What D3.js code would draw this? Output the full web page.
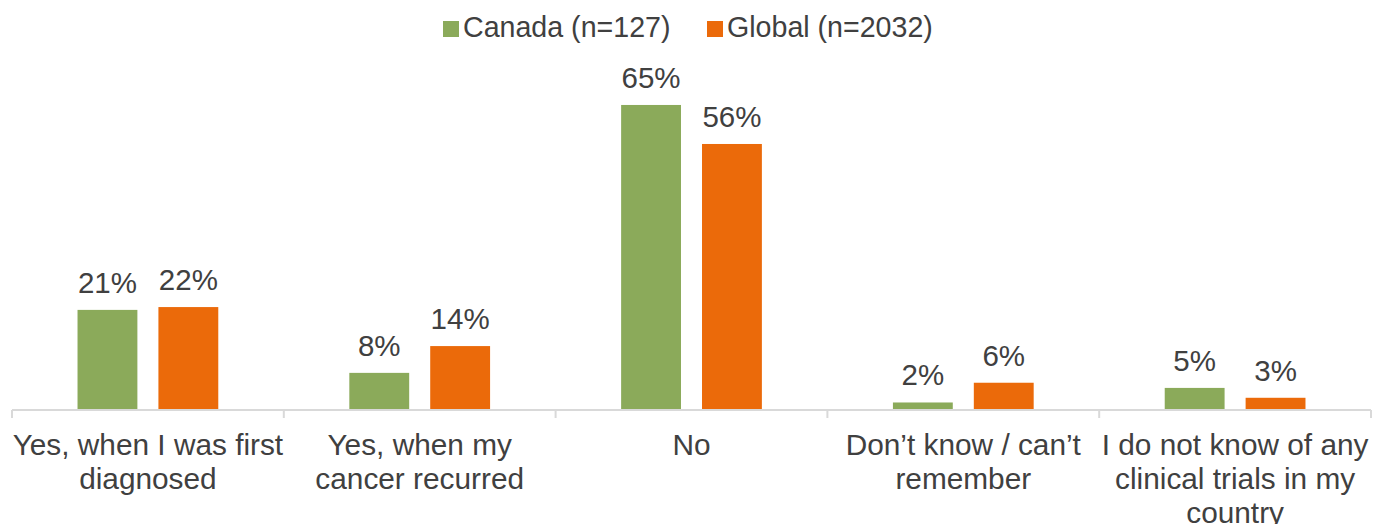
<!DOCTYPE html>
<html><head><meta charset="utf-8">
<script src="https://cdn.jsdelivr.net/npm/d3@7"></script>
<style>html,body{margin:0;padding:0;background:#fff;}svg{display:block;}</style>
</head><body>
<svg id="c" width="1385" height="524"></svg>
<script>
const categories = ["Yes, when I was first diagnosed","Yes, when my cancer recurred","No","Don’t know / can’t remember","I do not know of any clinical trials in my country"];
const categoryLines = [["Yes, when I was first","diagnosed"],["Yes, when my","cancer recurred"],["No"],["Don’t know / can’t","remember"],["I do not know of any","clinical trials in my","country"]];
const series = ["Canada (n=127)","Global (n=2032)"];
const canada = [21.3, 7.9, 64.9, 1.6, 4.7];
const global = [21.9, 13.6, 56.6, 5.8, 2.6];
const canadaLabels = ["21%","8%","65%","2%","5%"];
const globalLabels = ["22%","14%","56%","6%","3%"];
const colors = ["#8BAA5A","#EB6A0A"];

const svg = d3.select("#c");
const font = "Liberation Sans, Arial, Helvetica, sans-serif";
const textColor = "#404040";
const left = 12, right = 1371, base = 410;

const x = d3.scaleBand().domain(categories).range([left, right]).padding(0);
const xi = d3.scaleBand().domain(series).range([0, x.bandwidth()]).paddingInner(0.26).paddingOuter(0.81);
const y = d3.scaleLinear().domain([0, 70]).range([base, base - 4.7*70]);

const values = [canada, global];
const labels = [canadaLabels, globalLabels];

// bars
series.forEach((s, si) => {
  const g = svg.append("g");
  g.selectAll("rect").data(categories).join("rect")
    .attr("x", d => x(d) + xi(s))
    .attr("width", xi.bandwidth())
    .attr("y", (d,i) => y(values[si][i]))
    .attr("height", (d,i) => y(0) - y(values[si][i]))
    .attr("fill", colors[si]);
  g.selectAll("text").data(categories).join("text")
    .attr("x", d => x(d) + xi(s) + xi.bandwidth()/2)
    .attr("y", (d,i) => y(values[si][i]) - 17)
    .attr("text-anchor", "middle")
    .attr("font-family", font).attr("font-size", 29.5).attr("fill", textColor)
    .text((d,i) => labels[si][i]);
});

// axis
const axis = svg.append("g").attr("transform", `translate(0,${base})`)
  .call(d3.axisBottom(x).tickSize(0).tickFormat(""));
axis.select(".domain").attr("stroke", "#d9d9d9").attr("stroke-width", 2).attr("d", `M${left},0H${right}`);
const edges = categories.map(c => x(c)).concat([right]);
axis.selectAll("line.edge").data(edges).join("line").attr("class","edge")
  .attr("x1", d => d).attr("x2", d => d).attr("y1", 0).attr("y2", 8)
  .attr("stroke", "#d9d9d9").attr("stroke-width", 2);

// category labels
categories.forEach((c, i) => {
  const t = svg.append("text")
    .attr("text-anchor", "middle")
    .attr("font-family", font).attr("font-size", 29.8).attr("fill", textColor);
  categoryLines[i].forEach((line, li) => {
    t.append("tspan").attr("x", x(c) + x.bandwidth()/2).attr("y", 455 + li*34).text(line);
  });
});

// legend
const legend = svg.append("g");
const legendItems = [{x: 443}, {x: 707}];
series.forEach((s, si) => {
  legend.append("rect").attr("x", legendItems[si].x).attr("y", 21).attr("width", 16).attr("height", 16).attr("fill", colors[si]);
  legend.append("text").attr("x", legendItems[si].x + 20).attr("y", 37)
    .attr("font-family", font).attr("font-size", 28.6).attr("fill", textColor).text(s);
});
</script>
</body></html>
